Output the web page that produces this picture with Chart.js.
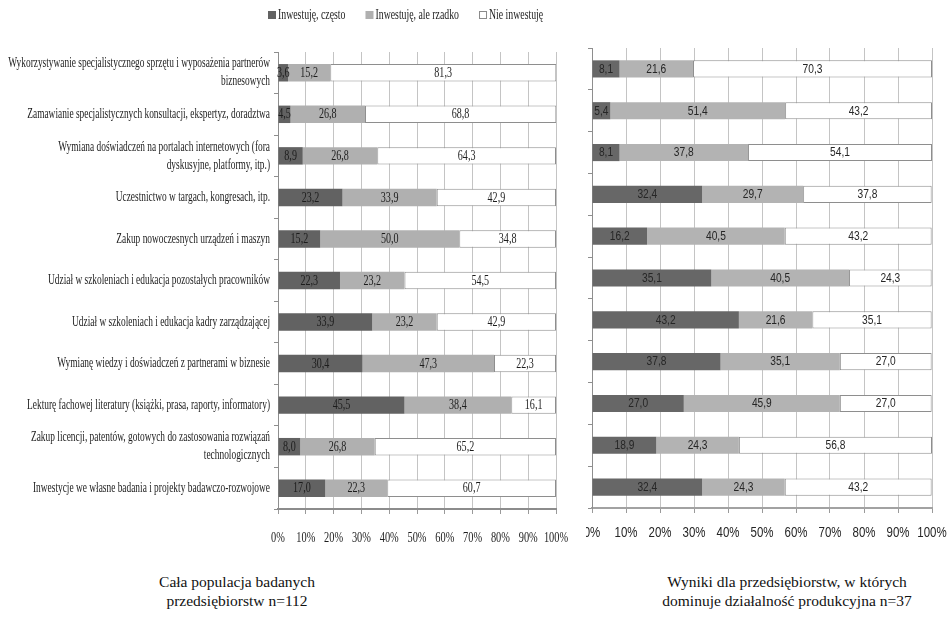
<!DOCTYPE html>
<html lang="pl">
<head>
<meta charset="utf-8">
<title>Formy inwestycji w wiedzę</title>
<script src="https://cdn.jsdelivr.net/npm/chart.js@4.4.1/dist/chart.umd.min.js"></script>
<style>
  html, body { margin: 0; padding: 0; background: #fff; }
  body { position: relative; width: 947px; height: 624px; overflow: hidden; font-family: "Liberation Serif", "Times New Roman", serif; }
  #boxAll { position: absolute; left: 0; top: 0; width: 570px; height: 560px; }
  #boxProd { position: absolute; left: 586px; top: 0; width: 361px; height: 560px; overflow: hidden; }
  .caption { position: absolute; top: 572px; text-align: center; font-size: 15.5px; line-height: 19px; color: #111; white-space: nowrap; }
</style>
</head>
<body>
<div id="boxAll"><canvas id="chartAll" width="570" height="560"></canvas></div>
<div id="boxProd"><canvas id="chartProd" width="361" height="560"></canvas></div>
<div class="caption" style="left:117px;width:240px;">Cała populacja badanych<br>przedsiębiorstw n=112</div>
<div class="caption" style="left:617px;width:340px;">Wyniki dla przedsiębiorstw, w których<br>dominuje działalność produkcyjna n=37</div>

<script>
// Categories (wrapped lines as drawn next to the left chart)
const categories = [
  ['Wykorzystywanie specjalistycznego sprzętu i wyposażenia partnerów', 'biznesowych'],
  ['Zamawianie specjalistycznych konsultacji, ekspertyz, doradztwa'],
  ['Wymiana doświadczeń na portalach internetowych (fora', 'dyskusyjne, platformy, itp.)'],
  ['Uczestnictwo w targach, kongresach, itp.'],
  ['Zakup nowoczesnych urządzeń i maszyn'],
  ['Udział w szkoleniach i edukacja pozostałych pracowników'],
  ['Udział w szkoleniach i edukacja kadry zarządzającej'],
  ['Wymianę wiedzy i doświadczeń z partnerami w biznesie'],
  ['Lekturę fachowej literatury (książki, prasa, raporty, informatory)'],
  ['Zakup licencji, patentów, gotowych do zastosowania rozwiązań', 'technologicznych'],
  ['Inwestycje we własne badania i projekty badawczo-rozwojowe']
];

const seriesNames = ['Inwestuję, często', 'Inwestuję, ale rzadko', 'Nie inwestuję'];

// Whole sample, n=112 (percent)
const allOften  = [3.6, 4.5, 8.9, 23.2, 15.2, 22.3, 33.9, 30.4, 45.5, 8.0, 17.0];
const allRarely = [15.2, 26.8, 26.8, 33.9, 50.0, 23.2, 23.2, 47.3, 38.4, 26.8, 22.3];
const allNever  = [81.3, 68.8, 64.3, 42.9, 34.8, 54.5, 42.9, 22.3, 16.1, 65.2, 60.7];

// Manufacturing-dominant firms, n=37 (percent)
const prodOften  = [8.1, 5.4, 8.1, 32.4, 16.2, 35.1, 43.2, 37.8, 27.0, 18.9, 32.4];
const prodRarely = [21.6, 51.4, 37.8, 29.7, 40.5, 40.5, 21.6, 35.1, 45.9, 24.3, 24.3];
const prodNever  = [70.3, 43.2, 54.1, 37.8, 43.2, 24.3, 35.1, 27.0, 27.0, 56.8, 43.2];

const percentTicks = [0, 10, 20, 30, 40, 50, 60, 70, 80, 90, 100];

// Horizontally compressed text, as in the narrow typeface of the figure
function squeezedText(ctx, text, x, y, sx, align) {
  ctx.save();
  ctx.translate(x, y);
  ctx.scale(sx, 1);
  ctx.textAlign = align;
  ctx.textBaseline = 'middle';
  ctx.fillText(text, 0, 0);
  ctx.restore();
}

const fmt = v => v.toFixed(1).replace('.', ',');

// Value labels centred in every bar segment
const valueLabels = {
  id: 'valueLabels',
  afterDatasetsDraw(chart, args, o) {
    const ctx = chart.ctx;
    ctx.save();
    ctx.font = o.font;
    ctx.fillStyle = o.color;
    chart.data.datasets.forEach((ds, di) => {
      const meta = chart.getDatasetMeta(di);
      meta.data.forEach((bar, i) => {
        const p = bar.getProps(['x', 'y', 'base'], true);
        const right = Math.min(p.x, chart.chartArea.right);
        squeezedText(ctx, fmt(ds.data[i]), (right + p.base) / 2, p.y + o.dy, o.sx, 'center');
      });
    });
    ctx.restore();
  }
};

// Percent labels under the value axis
const percentLabels = {
  id: 'percentLabels',
  afterDraw(chart, args, o) {
    const ctx = chart.ctx;
    const xs = chart.scales.x;
    ctx.save();
    ctx.font = o.font;
    ctx.fillStyle = o.color;
    percentTicks.forEach(v => {
      squeezedText(ctx, v + '%', xs.getPixelForValue(v), o.y, o.sx, 'center');
    });
    ctx.restore();
  }
};

// Category names to the left of the bars
const categoryLabels = {
  id: 'categoryLabels',
  afterDraw(chart, args, o) {
    if (!o.show) return;
    const ctx = chart.ctx;
    const ys = chart.scales.y;
    ctx.save();
    ctx.font = o.font;
    ctx.fillStyle = o.color;
    categories.forEach((lines, i) => {
      const cy = ys.getPixelForValue(i);
      const y0 = cy - (lines.length - 1) * o.lineHeight / 2;
      lines.forEach((t, k) => {
        squeezedText(ctx, t, chart.chartArea.left - o.gap, y0 + k * o.lineHeight, o.sx, 'right');
      });
    });
    ctx.restore();
  }
};

// Legend row above the left chart
const topLegend = {
  id: 'topLegend',
  afterDraw(chart, args, o) {
    if (!o.show) return;
    const ctx = chart.ctx;
    ctx.save();
    ctx.font = o.font;
    let x = o.x;
    chart.data.datasets.forEach(ds => {
      ctx.fillStyle = ds.backgroundColor;
      ctx.fillRect(x, o.y - 4, 8, 8);
      ctx.strokeStyle = '#8a8a8a';
      ctx.lineWidth = 1;
      if (ds.backgroundColor === '#ffffff') ctx.strokeRect(x + 0.5, o.y - 3.5, 7, 7);
      ctx.fillStyle = o.color;
      squeezedText(ctx, ds.label, x + 10, o.y, o.sx, 'left');
      x += 10 + ctx.measureText(ds.label).width * o.sx + o.spacing;
    });
    ctx.restore();
  }
};

function buildChart(canvasId, often, rarely, never, s) {
  return new Chart(document.getElementById(canvasId), {
    type: 'bar',
    data: {
      labels: categories,
      datasets: [
        { label: seriesNames[0], data: often, backgroundColor: s.dark, borderWidth: 0 },
        { label: seriesNames[1], data: rarely, backgroundColor: s.light, borderWidth: 0 },
        { label: seriesNames[2], data: never, backgroundColor: '#ffffff', borderColor: '#8e8e8e', borderWidth: 1, borderSkipped: false }
      ]
    },
    options: {
      indexAxis: 'y',
      responsive: false,
      animation: false,
      events: [],
      layout: { padding: s.padding },
      datasets: { bar: { categoryPercentage: 1, barPercentage: s.barPct } },
      scales: {
        x: {
          stacked: true,
          min: 0,
          max: 100,
          ticks: { display: false, stepSize: 10 },
          grid: { color: '#c4c4c4', lineWidth: 1, drawTicks: true, tickLength: 5, tickColor: '#9a9a9a' },
          border: { display: true, color: s.axisColor, width: s.axisWidth },
          afterFit: sc => { sc.height = s.xHeight; }
        },
        y: {
          stacked: true,
          ticks: { display: false },
          grid: { drawOnChartArea: false, drawTicks: true, tickLength: 4, color: '#8e8e8e', offset: true },
          border: { display: true, color: '#8e8e8e', width: 1 },
          afterFit: sc => { sc.width = s.yWidth; }
        }
      },
      plugins: {
        legend: { display: false },
        tooltip: { enabled: false },
        valueLabels: s.values,
        percentLabels: s.percents,
        categoryLabels: s.cats,
        topLegend: s.legend
      }
    },
    plugins: [valueLabels, percentLabels, categoryLabels, topLegend]
  });
}

buildChart('chartAll', allOften, allRarely, allNever, {
  dark: '#626262', light: '#b0b0b0',
  padding: { top: 52, right: 14, bottom: 0, left: 0 },
  barPct: 0.42, xHeight: 51, yWidth: 278,
  axisColor: '#8c8c8c', axisWidth: 2,
  values: { font: '14px "Liberation Serif"', color: '#1c1c1c', sx: 0.72, dy: 0.5 },
  percents: { font: '14px "Liberation Serif"', color: '#1c1c1c', sx: 0.74, y: 538 },
  cats: { show: true, font: '14px "Liberation Serif"', color: '#1c1c1c', sx: 0.67, gap: 8, lineHeight: 18 },
  legend: { show: true, font: '14px "Liberation Serif"', color: '#1c1c1c', sx: 0.7, x: 268, y: 15, spacing: 20 }
});

buildChart('chartProd', prodOften, prodRarely, prodNever, {
  dark: '#676767', light: '#b3b3b3',
  padding: { top: 48, right: 15, bottom: 0, left: 0 },
  barPct: 0.41, xHeight: 52, yWidth: 6,
  axisColor: '#a2a2a2', axisWidth: 2,
  values: { font: '12px "Liberation Sans"', color: '#262626', sx: 0.85, dy: 0.5 },
  percents: { font: '14px "Liberation Sans"', color: '#262626', sx: 0.82, y: 533 },
  cats: { show: false },
  legend: { show: false }
});
</script>
</body>
</html>
